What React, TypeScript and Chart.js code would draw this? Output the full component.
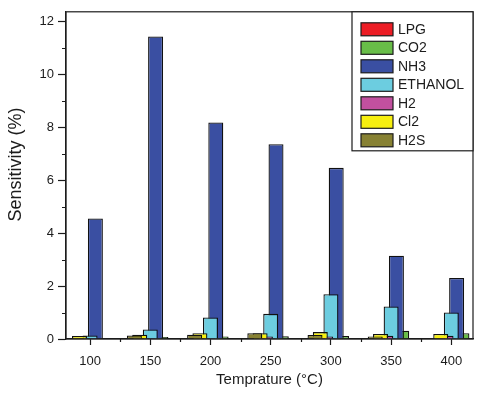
import React, { useEffect, useRef } from 'react';
import { Chart, registerables } from 'chart.js';

Chart.register(...registerables);

// ---- data ----
const temperatures = [100, 150, 200, 250, 300, 350, 400];
const h2sValues = [0.02, 0.13, 0.16, 0.22, 0.15, 0.09, 0.02];
const cl2Values = [0.11, 0.16, 0.22, 0.22, 0.26, 0.19, 0.19];
const h2Values = [0.02, 0.03, 0.03, 0.09, 0.09, 0.12, 0.12];
const ethanolValues = [0.13, 0.36, 0.81, 0.95, 1.69, 1.23, 1.0];
const nh3Values = [4.55, 11.42, 8.17, 7.35, 6.46, 3.14, 2.3];
const co2Values = [0.02, 0.08, 0.09, 0.1, 0.11, 0.31, 0.22];
const lpgValues = [0.02, 0.02, 0.01, 0.02, 0.02, 0.01, 0.02];

const xMajorTicks = [100, 150, 200, 250, 300, 350, 400];
const xMinorTicks = [125, 175, 225, 275, 325, 375];
const yMajorTicks = [0, 2, 4, 6, 8, 10, 12];
const yMinorTicks = [1, 3, 5, 7, 9, 11];

const yTitle = 'Sensitivity (%)';
const xTitle = 'Temprature (°C)';

const FONT = "'Liberation Sans', Arial, Helvetica, sans-serif";
const INK = '#1c1c1c';

const seriesDefs = [
  { label: 'H2S', values: h2sValues, color: '#878133' },
  { label: 'Cl2', values: cl2Values, color: '#f7ef0f' },
  { label: 'H2', values: h2Values, color: '#c2509f' },
  { label: 'ETHANOL', values: ethanolValues, color: '#6ccde0' },
  { label: 'NH3', values: nh3Values, color: '#3a4fa2' },
  { label: 'CO2', values: co2Values, color: '#68bd48' },
  { label: 'LPG', values: lpgValues, color: '#ec1d25' },
];

const framePlugin = {
  id: 'frameMinorLegend',
  afterDraw(chart: any) {
    const { ctx, chartArea: a, scales } = chart;
    ctx.save();
    ctx.strokeStyle = INK;
    ctx.lineWidth = 1.2;
    ctx.strokeRect(a.left, a.top, a.right - a.left, a.bottom - a.top);
    // minor ticks
    ctx.beginPath();
    xMinorTicks.forEach((v) => {
      const x = Math.round(scales.x.getPixelForValue(v)) + 0.5;
      ctx.moveTo(x, a.bottom);
      ctx.lineTo(x, a.bottom + 3);
    });
    yMinorTicks.forEach((v) => {
      const y = Math.round(scales.y.getPixelForValue(v)) + 0.5;
      ctx.moveTo(a.left - 4, y);
      ctx.lineTo(a.left, y);
    });
    ctx.stroke();

    // y axis title (rotated)
    ctx.save();
    ctx.translate(16, (a.top + a.bottom) / 2 - 11);
    ctx.rotate(-Math.PI / 2);
    ctx.font = `18px ${FONT}`;
    ctx.fillStyle = INK;
    ctx.textAlign = 'center';
    ctx.textBaseline = 'middle';
    ctx.fillText(yTitle, 0, 0);
    ctx.restore();

    // legend box (top-right, inside plot)
    const boxW = 121;
    const boxH = 139;
    const bx = a.right - boxW;
    const by = a.top;
    ctx.fillStyle = '#ffffff';
    ctx.fillRect(bx, by, boxW, boxH);
    ctx.strokeRect(bx, by, boxW, boxH);
    const ds = chart.data.datasets;
    ctx.font = `14px ${FONT}`;
    ctx.textBaseline = 'middle';
    ctx.textAlign = 'left';
    for (let i = 0; i < ds.length; i++) {
      const d = ds[ds.length - 1 - i];
      const sy = by + 11 + i * 18.5;
      ctx.fillStyle = d.backgroundColor;
      ctx.fillRect(bx + 9, sy, 32, 13);
      ctx.strokeStyle = INK;
      ctx.lineWidth = 1.2;
      ctx.strokeRect(bx + 9, sy, 32, 13);
      ctx.fillStyle = INK;
      ctx.fillText(d.label, bx + 46, sy + 7);
    }
    ctx.restore();
  },
};

export default function App() {
  const canvasRef = useRef<HTMLCanvasElement | null>(null);

  useEffect(() => {
    if (!canvasRef.current) return;
    const chart = new Chart(canvasRef.current, {
      type: 'bar',
      data: {
        datasets: seriesDefs.map((s) => ({
          label: s.label,
          data: temperatures.map((t, i) => ({ x: t, y: s.values[i] })),
          backgroundColor: s.color,
          borderColor: '#111111',
          borderWidth: 1.3,
          categoryPercentage: 0.616,
          barPercentage: 2.83,
        })),
      },
      options: {
        responsive: false,
        animation: false,
        layout: { padding: { top: 10, right: 27, left: 0, bottom: 0 } },
        plugins: { legend: { display: false }, tooltip: { enabled: false } },
        scales: {
          x: {
            type: 'linear',
            min: 80,
            max: 418,
            offset: false,
            afterBuildTicks: (s: any) => {
              s.ticks = xMajorTicks.map((v) => ({ value: v }));
            },
            afterFit: (s: any) => {
              s.height = 59;
            },
            grid: {
              display: true,
              offset: false,
              drawOnChartArea: false,
              drawTicks: true,
              tickLength: 6,
              color: INK,
              tickColor: INK,
              tickWidth: 1.2,
            },
            border: { display: true, color: INK, width: 1.2 },
            ticks: {
              padding: 9,
              autoSkip: false,
              maxRotation: 0,
              color: INK,
              font: { family: FONT, size: 13 },
              callback: (v: any) => String(v),
            },
            title: {
              display: true,
              text: xTitle,
              color: INK,
              font: { family: FONT, size: 15 },
              padding: { top: 0, bottom: 9 },
            },
          },
          y: {
            min: 0,
            max: 12.35,
            afterBuildTicks: (s: any) => {
              s.ticks = yMajorTicks.map((v) => ({ value: v }));
            },
            afterFit: (s: any) => {
              s.width = 66;
            },
            grid: {
              display: true,
              drawOnChartArea: false,
              drawTicks: true,
              tickLength: 8,
              color: INK,
              tickColor: INK,
              tickWidth: 1.2,
            },
            border: { display: true, color: INK, width: 1.2 },
            ticks: {
              padding: 4,
              color: INK,
              font: { family: FONT, size: 13 },
              callback: (v: any) => String(v),
            },
            title: { display: false },
          },
        },
      },
      plugins: [framePlugin],
    } as any);
    return () => chart.destroy();
  }, []);

  return (
    <div style={{ position: 'fixed', left: 0, top: 0, width: 500, height: 398, background: '#fff' }}>
      <canvas ref={canvasRef} width={500} height={398} style={{ display: 'block', width: 500, height: 398 }} />
    </div>
  );
}
